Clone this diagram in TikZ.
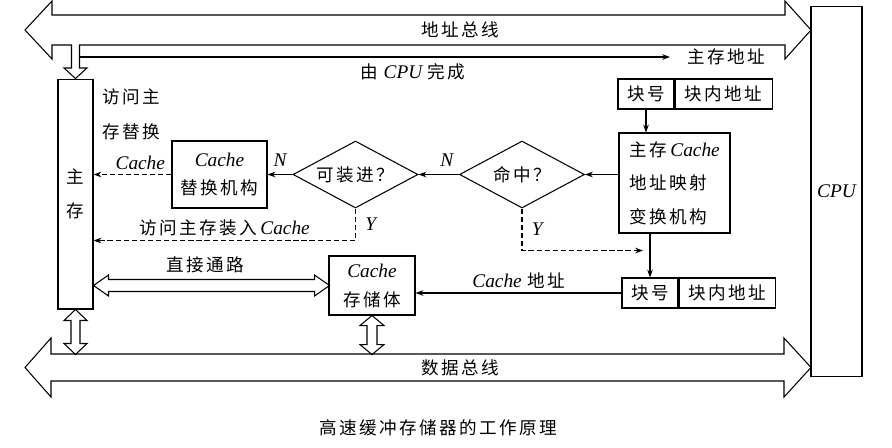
\documentclass[tikz,border=0pt]{standalone}
\usepackage{fontspec}
\setmainfont{Liberation Serif}
\newfontfamily\zhfont[LetterSpace=14]{Noto Sans CJK SC}
\usetikzlibrary{
  arrows.meta,      % Stealth 箭头
  calc,             % 坐标计算
  positioning,      % 节点相对定位
  shapes.geometric  % 菱形判断框
}
\newcommand\ital[1]{{\rmfamily\fontsize{11}{12}\selectfont\itshape #1}}
\tikzset{
  box/.style={
    draw,
    line width=0.6pt,
    inner sep=0pt,
    align=center
  },
  decision/.style={
    draw,
    diamond,
    shape aspect=1.87,
    line width=0.6pt,
    inner sep=0pt,
    minimum width=2.5cm,
    minimum height=1.34cm
  },
  flow/.style={
    -{Stealth[length=4.5pt,width=3.2pt]},
    line width=0.6pt
  },
  dflow/.style={
    flow,
    dash pattern=on 3pt off 1.6pt
  },
  bus/.style={
    draw,
    line width=0.6pt,
    line join=miter
  }
}

\begin{document}
\begin{tikzpicture}[x=0.02cm, y=-0.02cm, font=\zhfont\fontsize{10}{12}\selectfont]
    \useasboundingbox (0,0) rectangle (892,447);

    % 1. 主存与 CPU
    \node[box, minimum width=0.7cm, minimum height=4.6cm,
          font=\zhfont\fontsize{10}{19}\selectfont] (mm) at (75.5,194) {主\\存};
    \node[box, minimum width=1.02cm, minimum height=7.42cm] (cpu) at (836.5,191.5) {\ital{CPU}};

    % 2. 地址总线 (连同到主存的空心箭头)
    \draw[bus] (52,15) -- (52,1) -- (25,30) -- (52,59) -- (52,45) -- (71.5,45)
      -- (71.5,68) -- (64,68) -- (mm.north) -- (87,68) -- (79.5,68) -- (79.5,45)
      -- (785,45) -- (785,59) -- (811,30) -- (785,1) -- (785,15) -- cycle;
    \node (abus) at (460,30) {地址总线};
    \coordinate (tap) at (79.5,57);
    \node[anchor=west, inner xsep=0.35cm] (addr) at (670,57) {主存地址};
    \draw[flow] (tap) -- (addr.west);
    \node (bycpu) at (413,72) {由\hspace{0.3em}\ital{CPU}\hspace{0.3em}完成};
    \node[anchor=west, inner xsep=0pt, align=left,
          font=\zhfont\fontsize{10}{20}\selectfont] (visit) at (102,114.5) {访问主\\存替换};

    % 3. 主存地址寄存器与地址映射
    \node[box, minimum width=1.12cm, minimum height=0.6cm] (blk1) at (646,94) {块号};
    \node[box, minimum width=1.94cm, minimum height=0.6cm, right=0pt of blk1] (off1) {块内地址};
    \node[box, minimum width=2.22cm, minimum height=2cm, align=left,
          font=\zhfont\fontsize{10}{19}\selectfont] (map) at (674.5,183)
          {主存\hspace{0.2em}\ital{Cache}\\地址映射\\变换机构};

    % 4. 判断框与替换机构
    \node[decision] (hit) at (522,174.5) {命中？};
    \node[decision] (fit) at (355.5,174.5) {可装进？};
    \node[box, minimum width=1.9cm, minimum height=1.34cm,
          font=\zhfont\fontsize{10}{15.5}\selectfont] (rep) at (219.5,174.5)
          {\ital{Cache}\\替换机构};

    % 5. Cache 地址寄存器与 Cache 存储体
    \node[box, minimum width=1.12cm, minimum height=0.6cm] (blk2) at (650,293) {块号};
    \node[box, minimum width=1.92cm, minimum height=0.6cm, right=0pt of blk2] (off2) {块内地址};
    \node[box, minimum width=1.72cm, minimum height=1.18cm,
          font=\zhfont\fontsize{10}{16.5}\selectfont] (cs) at (372,285.5)
          {\ital{Cache}\\存储体};

    % 6. 流程连线
    \draw[flow] (blk1.south) -- (blk1.south |- map.north);
    \draw[flow] (map.west |- hit.east) -- (hit.east);
    \draw[flow] (hit.west) -- node[pos=0.3, above=1pt] {\ital{N}} (fit.east);
    \draw[flow] (fit.west) -- node[above=1pt] {\ital{N}} (rep.east);
    \draw[dflow] (rep.west) -- node[pos=0.4, above=-1pt] {\ital{Cache}} (rep.west -| mm.east);
    \draw[dflow] (fit.south) -- node[right=2pt] {\ital{Y}} ++(0,32) coordinate (fy)
      -- node[above=-1pt] {访问主存装入\hspace{0.2em}\ital{Cache}} (fy -| mm.east);
    \draw[dflow] (hit.south) -- node[right=2pt] {\ital{Y}} ++(0,42) coordinate (hy)
      -- ([xshift=-0.14cm]hy -| blk2.north);
    \draw[flow] (blk2.north |- map.south) -- (blk2.north);
    \draw[flow] (blk2.west) -- node[above=-1pt] {\ital{Cache}\hspace{0.3em}地址} (blk2.west -| cs.east);

    % 7. 直接通路 (双向空心箭头)
    \draw[bus] (mm.east |- cs.west) -- ++(15,-10.5) -- ++(0,4.5) -- ++(206,0) -- ++(0,-4.5)
      -- ++(15,10.5) -- ++(-15,10.5) -- ++(0,-4.5) -- ++(-206,0) -- ++(0,4.5) -- cycle;
    \node (direct) at (205,265) {直接通路};

    % 8. 数据总线及两个双向空心箭头
    \draw[bus] (51,354) -- (51,338) -- (25,367.5) -- (51,397) -- (51,381) -- (784,381)
      -- (784,397) -- (811,367.5) -- (784,338) -- (784,354) -- cycle;
    \node (dbus) at (460,367.5) {数据总线};
    \draw[bus] (mm.south) -- ++(11.5,11) -- ++(-7,0) -- ++(0,23) -- ++(7,0) -- ++(-11.5,11)
      -- ++(-11.5,-11) -- ++(7,0) -- ++(0,-23) -- ++(-7,0) -- cycle;
    \draw[bus] (cs.south) -- ++(12,10) -- ++(-7,0) -- ++(0,19) -- ++(7,0) -- ++(-12,10)
      -- ++(-12,-10) -- ++(7,0) -- ++(0,-19) -- ++(-7,0) -- cycle;

    \node (cap) at (438,428) {高速缓冲存储器的工作原理};

\end{tikzpicture}
\end{document}
